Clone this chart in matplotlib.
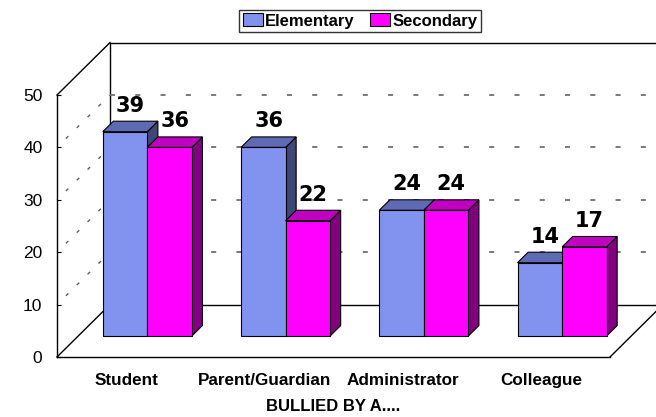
import matplotlib
matplotlib.use("Agg")
import matplotlib.pyplot as plt
from matplotlib.patches import Polygon, Patch

plt.rcParams["font.family"] = ["Liberation Sans", "DejaVu Sans"]

categories = ["Student", "Parent/Guardian", "Administrator", "Colleague"]
series_names = ["Elementary", "Secondary"]
elementary = [39, 36, 24, 14]
secondary = [36, 22, 24, 17]
yticks = [0, 10, 20, 30, 40, 50]
xlabel = "BULLIED BY A...."

# face colours: front, top, side
face_colors = [
    ("#8193EE", "#5F6AB4", "#3F4678"),
    ("#FF00FF", "#C000C0", "#800080"),
]

# oblique 3D look: offset of the back wall in data units
DX, DY = 0.383, 10.0
D0, D1 = 0.4, 0.6          # depth span of the bars
BAR_W = 0.322
YMAX = 50


def draw_bar(ax, x0, v, colors):
    front, top, side = colors
    fx0, fy0 = x0 + D0 * DX, D0 * DY
    bx0, by0 = x0 + D1 * DX, D1 * DY
    kw = dict(edgecolor="black", linewidth=0.8, clip_on=False, zorder=3)
    ax.add_patch(Polygon([(fx0 + BAR_W, fy0), (bx0 + BAR_W, by0),
                          (bx0 + BAR_W, by0 + v), (fx0 + BAR_W, fy0 + v)],
                         facecolor=side, **kw))
    ax.add_patch(Polygon([(fx0, fy0 + v), (fx0 + BAR_W, fy0 + v),
                          (bx0 + BAR_W, by0 + v), (bx0, by0 + v)],
                         facecolor=top, **kw))
    ax.add_patch(Polygon([(fx0, fy0), (fx0 + BAR_W, fy0),
                          (fx0 + BAR_W, fy0 + v), (fx0, fy0 + v)],
                         facecolor=front, **kw))
    ax.annotate(f"{v}", (x0 + BAR_W / 2 + (D0 + D1) / 2 * DX, v + D1 * DY),
                xytext=(0, 4), textcoords="offset points", ha="center",
                va="bottom", fontsize=15, fontweight="bold", zorder=10,
                family="DejaVu Sans", annotation_clip=False)


fig = plt.figure(figsize=(6.56, 4.17), dpi=100)
ax = fig.add_axes([57 / 656, 60 / 417, 553 / 656, 262 / 417])
n = len(categories)
ax.set_xlim(0, n)
ax.set_ylim(0, YMAX)

# walls and floor outline
line_kw = dict(color="black", linewidth=1.0, clip_on=False, zorder=1)
ax.plot([0, DX], [YMAX, YMAX + DY], **line_kw)
ax.plot([0, DX], [0, DY], **line_kw)
ax.plot([DX, DX], [DY, YMAX + DY], **line_kw)
ax.plot([DX, n + DX + 0.2], [YMAX + DY, YMAX + DY], **line_kw)
ax.plot([DX, n + DX], [DY, DY], **line_kw)
ax.plot([n, n + DX], [0, DY], **line_kw)

# gridlines: dotted on the side wall, dashed on the back wall
for v in yticks[1:-1]:
    ax.plot([0, DX], [v, v + DY], color="#606060", linewidth=1.0,
            linestyle=(2, (2.5, 8.5)), clip_on=False, zorder=1)
    ax.plot([DX, n + DX + 0.2], [v + DY, v + DY], color="#707070",
            linewidth=1.3, linestyle=(0, (2.8, 11.2)), clip_on=False, zorder=1)

# bars, drawn left to right
gap = (1 - 2 * BAR_W) / 2
for i in range(n):
    for j, vals in enumerate([elementary, secondary]):
        draw_bar(ax, i + gap + j * BAR_W, vals[i], face_colors[j])

for s in ["top", "right"]:
    ax.spines[s].set_visible(False)
ax.spines["left"].set_linewidth(1.0)
ax.spines["bottom"].set_linewidth(1.0)
ax.set_yticks(yticks)
ax.tick_params(axis="y", direction="in", length=3, pad=10.5, labelsize=12.5)
ax.set_xticks([i + 0.5 for i in range(n)])
ax.set_xticklabels(categories, fontweight="bold", fontsize=12.3)
ax.tick_params(axis="x", length=0, pad=11.5)
ax.set_xlabel(xlabel, fontweight="bold", fontsize=12, labelpad=8)
ax.set_facecolor("none")

handles = [Patch(facecolor=c[0], edgecolor="black", linewidth=0.8) for c in face_colors]
leg = fig.legend(handles, series_names, loc="center", ncol=2,
                 bbox_to_anchor=(360 / 656, 1 - 21 / 417), frameon=True,
                 fancybox=False, edgecolor="black", handlelength=1.2,
                 handleheight=0.8, handletextpad=0.15, columnspacing=0.9,
                 borderpad=0.2, prop=dict(weight="bold", size=12))
leg.get_frame().set_linewidth(1.0)

fig.savefig("out.png", dpi=100)
